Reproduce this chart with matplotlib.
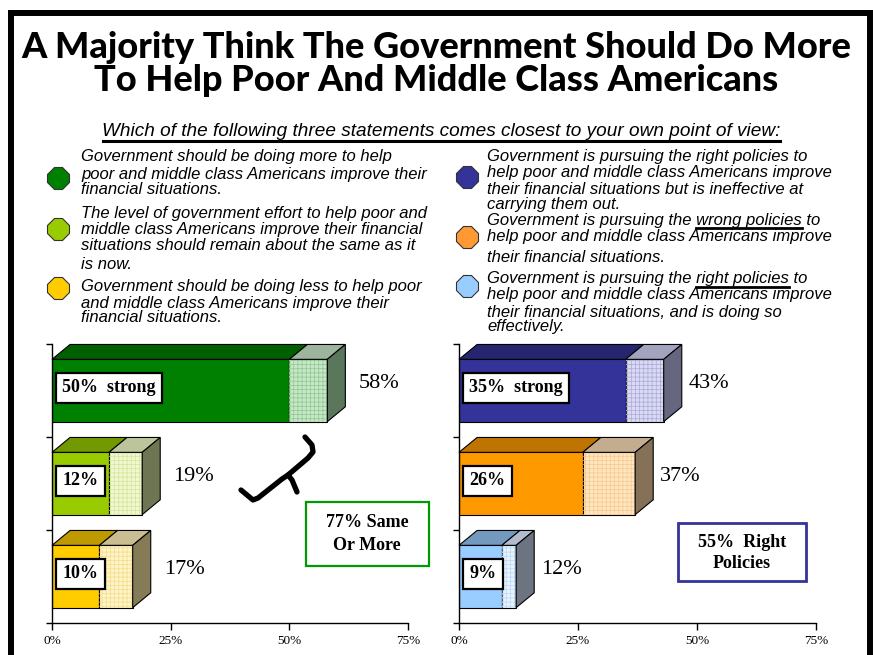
import matplotlib
matplotlib.use("Agg")
import matplotlib.pyplot as plt
from matplotlib.patches import Rectangle, Polygon
from matplotlib.lines import Line2D

W, H = 873, 655

# ---- data -------------------------------------------------------------
title_lines = ["A Majority Think The Government Should Do More",
               "To Help Poor And Middle Class Americans"]
subtitle = "Which of the following three statements comes closest to your own point of view:"

left_items = [
    ["Government should be doing more to help",
     "poor and middle class Americans improve their",
     "financial situations."],
    ["The level of government effort to help poor and",
     "middle class Americans improve their financial",
     "situations should remain about the same as it",
     "is now."],
    ["Government should be doing less to help poor",
     "and middle class Americans improve their",
     "financial situations."],
]
right_items = [
    ["Government is pursuing the right policies to",
     "help poor and middle class Americans improve",
     "their financial situations but is ineffective at",
     "carrying them out."],
    ["Government is pursuing the |wrong policies| to",
     "help poor and middle class Americans improve",
     "their financial situations."],
    ["Government is pursuing the |right policies| to",
     "help poor and middle class Americans improve",
     "their financial situations, and is doing so",
     "effectively."],
]

# bars, top to bottom
left_strong = [50, 12, 10]
left_total = [58, 19, 17]
left_strong_labels = ["50%  strong", "12%", "10%"]
left_total_labels = ["58%", "19%", "17%"]

right_strong = [35, 26, 9]
right_total = [43, 37, 12]
right_strong_labels = ["35%  strong", "26%", "9%"]
right_total_labels = ["43%", "37%", "12%"]

xticks = [0, 25, 50, 75]
xtick_labels = ["0%", "25%", "50%", "75%"]

left_note = "77% Same\nOr More"
right_note = "55%  Right\nPolicies"

# ---- styles -----------------------------------------------------------
# main, top of main, light part, top of light, side, hatch
left_styles = [
    ("#008000", "#005f00", "#c8e6c8", "#9db59d", "#5b775b", "#8cc98c"),
    ("#99cc00", "#739900", "#f0f7d2", "#bcc49c", "#6e7552", "#d2e594"),
    ("#ffcc00", "#bf9900", "#fff3c8", "#c9bd92", "#857b57", "#f3dc8a"),
]
right_styles = [
    ("#333399", "#262670", "#dadaf2", "#a3a3bf", "#666680", "#a9a9da"),
    ("#ff9900", "#bf7300", "#ffe5c0", "#c4ad8e", "#857158", "#f5c98c"),
    ("#99ccff", "#7399bf", "#e8f3ff", "#b3bccc", "#6b7480", "#b9d7f6"),
]
legend_left_colors = ["#008000", "#99cc00", "#ffcc00"]
legend_right_colors = ["#333399", "#ff9933", "#99ccff"]

SANS = ["Liberation Sans", "DejaVu Sans"]
SERIF = ["Liberation Serif", "DejaVu Serif"]
plt.rcParams["hatch.linewidth"] = 0.5


def fx(x):
    return x / W


def fy(y):
    return 1 - y / H


fig = plt.figure(figsize=(W / 100, H / 100), dpi=100)
fig.patch.set_facecolor("white")
renderer = fig.canvas.get_renderer()


def text_width(s, **kw):
    t = fig.text(0, 0, s, **kw)
    w = t.get_window_extent(renderer).width
    t.remove()
    return w


# frame
fig.add_artist(Rectangle((fx(11), fy(720)), fx(870) - fx(11), fy(13) - fy(720),
                         transform=fig.transFigure, fill=False, lw=4.3,
                         ec="black", clip_on=False))

# title
tkw = dict(family=["Lato", "DejaVu Sans"], fontweight="black")
tsize = 24 * 830 / text_width(title_lines[0], fontsize=24, **tkw)
for line, yb in zip(title_lines, [58, 91]):
    fig.text(0.5, fy(yb), line, ha="center", va="baseline", fontsize=tsize, **tkw)

# subtitle, underlined
skw = dict(family=SANS, style="italic")
ssize = 11 * 677 / text_width(subtitle, fontsize=11, **skw)
fig.text(fx(441), fy(131), subtitle, ha="center", va="center", fontsize=ssize, **skw)
fig.add_artist(Line2D([fx(103), fx(780)], [fy(141), fy(141)], lw=2.2,
                      color="black", transform=fig.transFigure))

# legend text
lkw = dict(family=SANS, style="italic")
lsize = 10 * 346 / text_width(left_items[0][1], fontsize=10, **lkw)
left_line_y = [[157, 174, 190], [213, 230, 246, 264], [287, 303, 318]]
right_line_y = [[157, 173, 189, 205], [220, 237, 257], [279, 295, 312, 326]]
left_dot_y = [178, 229, 288]
right_dot_y = [177, 237, 286]


def draw_legend(items, line_ys, dot_ys, colors, x_dot, x_text):
    for lines, ys, yd, c in zip(items, line_ys, dot_ys, colors):
        fig.add_artist(Line2D([fx(x_dot)], [fy(yd)], marker="8", ms=16.5,
                              mfc=c, mec="#333333", mew=0.8,
                              transform=fig.transFigure))
        for s, y in zip(lines, ys):
            parts = s.split("|")
            plain = "".join(parts)
            fig.text(fx(x_text), fy(y), plain, ha="left", va="center",
                     fontsize=lsize, **lkw)
            if len(parts) == 3:
                end = text_width(parts[0] + parts[1], fontsize=lsize, **lkw)
                start = end - text_width(parts[1], fontsize=lsize, **lkw)
                fig.add_artist(Line2D([fx(x_text + start), fx(x_text + end)],
                                      [fy(y + 8), fy(y + 8)], lw=2.0,
                                      color="black", transform=fig.transFigure))


draw_legend(left_items, left_line_y, left_dot_y, legend_left_colors, 58, 81)
draw_legend(right_items, right_line_y, right_dot_y, legend_right_colors, 467, 487)

# ---- bar panels -------------------------------------------------------
DX, DY, BH = 3.8, 0.16, 0.67
centers = [2.5, 1.5, 0.5]


def panel(rect, strong, total, s_labels, t_labels, styles, t_off):
    ax = fig.add_axes(rect)
    ax.set_xlim(0, 75)
    ax.set_ylim(0, 3)
    for y, s, t, sl, tl, st in zip(centers, strong, total, s_labels, t_labels, styles):
        main, top, light, ltop, side, hat = st
        yb, yt = y - BH / 2, y + BH / 2
        ax.barh(y, s, height=BH, color=main, edgecolor="black", lw=0.8, zorder=2)
        ax.barh(y, t - s, left=s, height=BH, color=light, edgecolor="black",
                lw=0.8, zorder=2)
        ax.barh(y, t - s, left=s, height=BH, color="none", edgecolor=hat,
                hatch="++++", lw=0, zorder=2)
        faces = [
            ([(0, yt), (DX, yt + DY), (s + DX, yt + DY), (s, yt)], top),
            ([(s, yt), (s + DX, yt + DY), (t + DX, yt + DY), (t, yt)], ltop),
            ([(t, yb), (t, yt), (t + DX, yt + DY), (t + DX, yb + DY)], side),
        ]
        for pts, c in faces:
            ax.add_patch(Polygon(pts, closed=True, fc=c, ec="black", lw=0.8,
                                 zorder=2, clip_on=False))
        ax.text(2.2, y + 0.03, sl, ha="left", va="center", fontsize=13,
                family=SERIF, fontweight="bold", zorder=4,
                bbox=dict(boxstyle="square,pad=0.35", fc="white", ec="black", lw=1.6))
        ax.text(t + DX + t_off, y + 0.08, tl, ha="left", va="center",
                fontsize=16, family=SERIF, zorder=4)
    for sp in ["top", "right"]:
        ax.spines[sp].set_visible(False)
    for sp in ["left", "bottom"]:
        ax.spines[sp].set_linewidth(1.0)
    ax.set_yticks([0, 1, 2, 3])
    ax.set_yticklabels([])
    ax.tick_params(axis="y", length=4, direction="out", width=1)
    ax.set_xticks(xticks)
    ax.set_xticklabels(xtick_labels, fontsize=9.5, family=SERIF)
    ax.tick_params(axis="x", length=5, direction="out", width=1, pad=4)
    ax.patch.set_alpha(0)
    return ax


panel([fx(52), fy(623), 356 / W, 279 / H], left_strong, left_total,
      left_strong_labels, left_total_labels, left_styles, 2.8)
panel([fx(459), fy(623), 357 / W, 279 / H], right_strong, right_total,
      right_strong_labels, right_total_labels, right_styles, 1.4)

# note boxes
fig.add_artist(Rectangle((fx(306), fy(566)), (429 - 306) / W, (566 - 502) / H,
                         transform=fig.transFigure, fc="white", ec="#009900", lw=1.6))
fig.text(fx(367), fy(534), left_note, ha="center", va="center", fontsize=13,
         family=SERIF, fontweight="bold", linespacing=1.4)
fig.add_artist(Rectangle((fx(678), fy(581)), (806 - 678) / W, (581 - 523) / H,
                         transform=fig.transFigure, fc="white", ec="#333399", lw=2.0))
fig.text(fx(742), fy(553), right_note, ha="center", va="center", fontsize=13,
         family=SERIF, fontweight="bold", linespacing=1.25)

# hand-drawn brace
bx = [241, 253, 258, 282, 288, 308, 313, 312, 305]
by = [490, 500, 498, 479, 475, 458, 452, 445, 437]
fig.add_artist(Line2D([fx(v) for v in bx], [fy(v) for v in by], lw=3.8,
                      color="black", solid_capstyle="round",
                      solid_joinstyle="round", transform=fig.transFigure))
px = [288, 292, 297]
py = [475, 480, 492]
fig.add_artist(Line2D([fx(v) for v in px], [fy(v) for v in py], lw=3.8,
                      color="black", solid_capstyle="round",
                      solid_joinstyle="round", transform=fig.transFigure))

fig.savefig("out.png", dpi=100)
